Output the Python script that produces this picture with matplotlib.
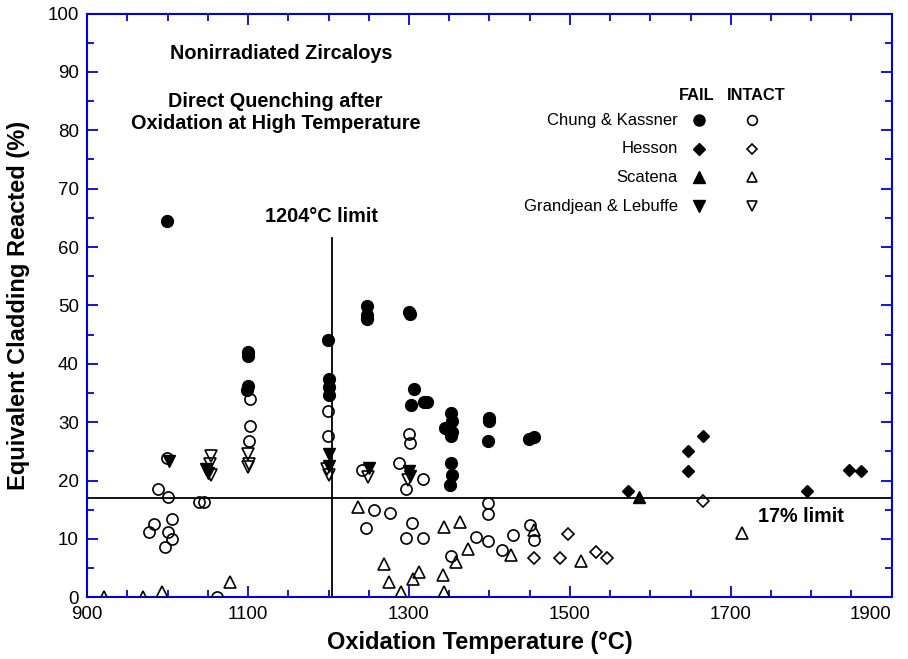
import matplotlib
matplotlib.use('Agg')
import matplotlib.pyplot as plt
import numpy as np

plt.rcParams['font.family'] = ['Liberation Sans', 'DejaVu Sans']

# Chung & Kassner
ck_fail_T = [999, 1100, 1100, 1100, 1099, 1199, 1200, 1200, 1200, 1248, 1248, 1248,
             1300, 1301, 1306, 1303, 1319, 1322, 1352, 1353, 1345, 1352, 1353,
             1352, 1353, 1351, 1400, 1400, 1398, 1449, 1455]
ck_fail_E = [64.5, 42.0, 41.3, 36.2, 35.6, 44.0, 37.4, 36.0, 34.6, 49.9, 47.6, 48.3,
             48.8, 48.5, 35.7, 32.9, 33.4, 33.5, 31.6, 30.2, 29.0, 27.6, 28.4,
             23.1, 20.9, 19.2, 30.8, 30.2, 26.7, 27.2, 27.5]
ck_ok_T = [999, 988, 1001, 1005, 983, 977, 1001, 1005, 997, 1039, 1045, 1061,
           1102, 1102, 1101, 1199, 1199, 1242, 1256, 1276, 1246, 1287, 1296, 1317,
           1300, 1301, 1304, 1296, 1317, 1352, 1383, 1398, 1398, 1398, 1429, 1450,
           1456, 1416]
ck_ok_E = [23.9, 18.6, 17.2, 13.5, 12.6, 11.2, 11.2, 10.0, 8.6, 16.3, 16.3, 0.0,
           34.0, 29.3, 26.7, 31.9, 27.6, 21.8, 14.9, 14.5, 11.8, 23.1, 18.6, 20.3,
           27.9, 26.5, 12.8, 10.1, 10.1, 7.1, 10.3, 9.7, 16.1, 14.3, 10.6, 12.4,
           9.9, 8.2]

# Hesson
he_fail_T = [1572, 1647, 1647, 1666, 1795, 1847, 1862]
he_fail_E = [18.2, 25.1, 21.6, 27.6, 18.2, 21.9, 21.6]
he_ok_T = [1498, 1456, 1488, 1533, 1546, 1666]
he_ok_E = [10.8, 6.7, 6.7, 7.8, 6.7, 16.5]

# Scatena
sc_fail_T = [1586]
sc_fail_E = [17.2]
sc_ok_T = [921, 969, 993, 1078, 1237, 1343, 1363, 1374, 1359, 1269, 1275, 1305,
           1312, 1342, 1290, 1343, 1456, 1427, 1514, 1714]
sc_ok_E = [0.0, 0.0, 0.9, 2.6, 15.4, 12.0, 12.9, 8.3, 6.1, 5.8, 2.6, 3.1,
           4.3, 3.8, 0.9, 0.9, 11.6, 7.2, 6.3, 11.0]

# Grandjean & Lebuffe
gl_fail_T = [1002, 1048, 1050, 1200, 1201, 1250, 1300, 1301]
gl_fail_E = [23.3, 22.0, 21.3, 24.5, 22.5, 22.1, 21.6, 20.8]
gl_ok_T = [1054, 1053, 1054, 1100, 1101, 1100, 1198, 1201, 1249, 1299]
gl_ok_E = [24.2, 22.8, 21.0, 24.5, 22.8, 22.3, 22.0, 21.0, 20.7, 20.1]

series = [
    ('Chung & Kassner', 'o', ck_fail_T, ck_fail_E, ck_ok_T, ck_ok_E, 8.5, 8.0),
    ('Hesson', 'D', he_fail_T, he_fail_E, he_ok_T, he_ok_E, 6.0, 6.0),
    ('Scatena', '^', sc_fail_T, sc_fail_E, sc_ok_T, sc_ok_E, 8.0, 8.0),
    ('Grandjean & Lebuffe', 'v', gl_fail_T, gl_fail_E, gl_ok_T, gl_ok_E, 8.0, 8.0),
]

blue = '#0000e6'

fig = plt.figure(figsize=(9.08, 6.59), dpi=100)
ax = fig.add_axes([0.096, 0.0935, 0.886, 0.886])

ax.axhline(17, color='black', lw=1.3, zorder=1)
ax.plot([1204, 1204], [0, 61.5], color='black', lw=1.3, zorder=1)

for name, m, ft, fe, ot, oe, fs, os_ in series:
    ax.plot(ot, oe, m, ms=os_, mfc='none', mec='black', mew=1.2, zorder=3)
    ax.plot(ft, fe, m, ms=fs, mfc='black', mec='black', mew=1.0, zorder=4)

# legend block
ax.text(0.758, 0.860, 'FAIL', transform=ax.transAxes, ha='center', va='center',
        fontsize=11.8, fontweight='bold')
ax.text(0.832, 0.860, 'INTACT', transform=ax.transAxes, ha='center', va='center',
        fontsize=11.8, fontweight='bold')
for i, (name, m, *_rest) in enumerate(series):
    yy = 0.8176 - i * 0.0492
    ax.text(0.734, yy, name, transform=ax.transAxes, ha='right', va='center',
            fontsize=12)
    ax.plot([0.760], [yy], m, ms=8.0 if m != 'D' else 6.0, mfc='black',
            mec='black', transform=ax.transAxes, clip_on=False)
    ax.plot([0.827], [yy], m, ms=7.0 if m != 'D' else 5.5, mfc='none',
            mec='black', mew=1.2, transform=ax.transAxes, clip_on=False)

ax.text(1141, 93.2, 'Nonirradiated Zircaloys', ha='center', va='center',
        fontsize=14.3, fontweight='bold')
ax.text(1134, 83.1, 'Direct Quenching after\nOxidation at High Temperature',
        ha='center', va='center', fontsize=14.3, fontweight='bold',
        linespacing=1.2)
ax.text(1191, 65.3, '1204°C limit', ha='center', va='center',
        fontsize=14.3, fontweight='bold')
ax.text(1787, 13.8, '17% limit', ha='center', va='center',
        fontsize=14.2, fontweight='bold')

ax.set_xlim(900, 1900)
ax.set_ylim(0, 100)
ax.set_xticks(np.arange(900, 1901, 200))
ax.set_xticks(np.arange(900, 1901, 50), minor=True)
ax.set_yticks(np.arange(0, 101, 10))
ax.set_yticks(np.arange(0, 101, 5), minor=True)
ax.tick_params(which='both', direction='in', top=True, right=True,
               color=blue, width=1.3, labelsize=13.5, pad=6)
ax.tick_params(which='major', length=8)
ax.tick_params(which='minor', length=5)
for s in ax.spines.values():
    s.set_color(blue)
    s.set_linewidth(1.5)

# keep the last x label inside the figure
fig.canvas.draw()
ax.get_xticklabels()[-1].set_horizontalalignment('right')

ax.set_xlabel('Oxidation Temperature (°C)', fontsize=17, fontweight='bold')
ax.set_ylabel('Equivalent Cladding Reacted (%)', fontsize=17, fontweight='bold')
ax.xaxis.set_label_coords(0.488, -0.058, transform=ax.transAxes)
ax.yaxis.set_label_coords(-0.071, 0.5, transform=ax.transAxes)

fig.savefig('out.png', dpi=100)
